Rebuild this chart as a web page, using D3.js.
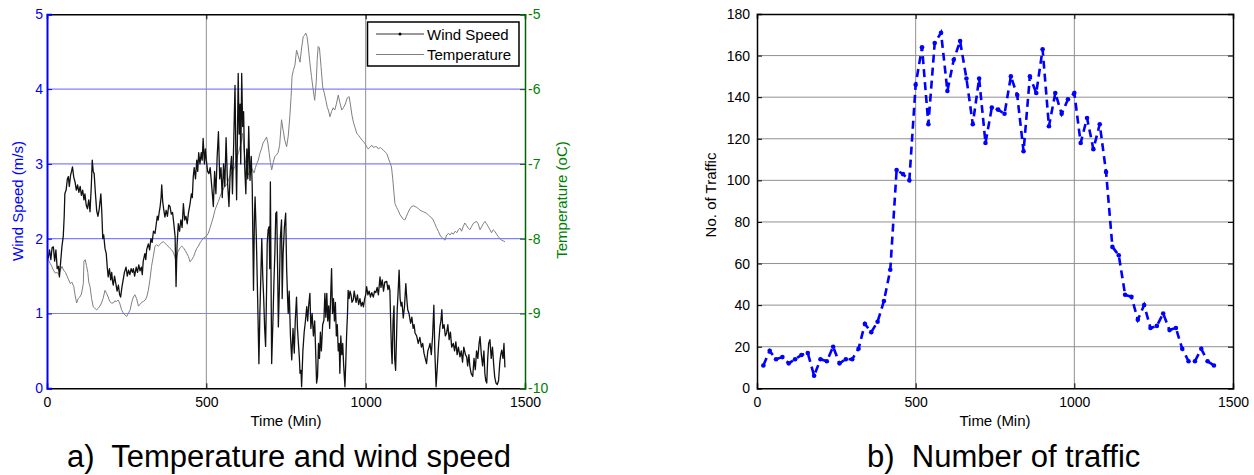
<!DOCTYPE html>
<html>
<head>
<meta charset="utf-8">
<script src="https://cdn.jsdelivr.net/npm/d3@7"></script>
<style>
  html, body { margin: 0; padding: 0; background: #fff; }
  svg { display: block; font-family: "Liberation Sans", Arial, sans-serif; }
</style>
</head>
<body>
<svg id="chart" width="1254" height="475"></svg>
<script>
// ---------------- DATA ----------------
const windTime = [0,4,8,12,16,20,24,28,32,36,39,43,47,51,54,56,60,64,67,70,74,77,80,84,88,92,96,100,104,108,112,116,119,123,127,131,135,139,142,145,148,152,156,160,164,169,172,175,178,182,186,189,192,196,200,203,206,208,212,216,220,224,228,231,235,239,243,248,252,256,260,264,268,271,275,280,284,288,292,296,299,302,307,310,313,318,322,326,330,334,339,343,346,349,352,355,358,360,363,366,370,374,378,382,386,390,394,398,402,405,408,412,416,420,424,428,432,436,440,444,449,453,456,459,462,466,470,473,476,480,484,487,490,494,497,500,504,508,512,515,518,522,526,530,534,538,542,546,550,554,558,562,566,571,575,579,582,586,590,593,595,598,600,603,606,608,611,614,617,620,624,627,630,633,637,641,644,648,651,653,657,661,665,668,671,674,677,680,683,686,689,691,694,697,699,701,703,705,709,712,715,718,721,724,726,729,732,736,738,741,745,749,752,755,757,760,764,768,772,776,779,783,786,789,792,794,797,799,803,807,811,815,818,821,825,828,832,836,840,843,846,849,852,855,858,861,865,869,872,875,878,881,884,887,890,893,896,899,902,905,908,911,914,917,919,922,925,928,931,935,938,940,943,945,948,951,954,957,961,964,967,970,974,978,982,986,990,993,997,1000,1003,1007,1011,1015,1019,1024,1028,1032,1036,1040,1045,1048,1052,1056,1060,1066,1070,1073,1076,1079,1081,1083,1086,1089,1091,1094,1097,1099,1102,1105,1108,1111,1114,1118,1122,1126,1129,1132,1136,1141,1145,1149,1152,1155,1160,1165,1170,1175,1179,1183,1187,1191,1195,1199,1202,1206,1210,1214,1217,1221,1225,1229,1233,1236,1239,1242,1246,1250,1254,1258,1262,1266,1270,1275,1279,1283,1287,1291,1296,1300,1304,1308,1313,1317,1320,1324,1327,1331,1336,1340,1344,1348,1352,1356,1359,1363,1367,1371,1374,1377,1380,1383,1386,1390,1394,1398,1402,1405,1409,1413,1417,1421,1424,1427,1431,1434,1437];
const windSpeed = [1.75,1.74,1.85,1.72,1.88,1.89,1.70,1.85,1.60,1.63,1.49,1.70,1.90,2.03,2.30,2.60,2.65,2.80,2.83,2.70,2.85,2.90,2.96,2.82,2.76,2.65,2.72,2.62,2.70,2.58,2.65,2.52,2.60,2.45,2.40,2.52,2.36,2.70,3.05,2.90,2.87,2.60,2.37,2.30,2.40,2.60,2.35,2.00,2.05,1.87,1.80,1.62,1.49,1.60,1.45,1.55,1.42,1.38,1.50,1.40,1.30,1.38,1.25,1.22,1.35,1.45,1.55,1.62,1.50,1.58,1.52,1.60,1.55,1.60,1.50,1.62,1.55,1.65,1.57,1.62,1.52,1.70,1.80,1.72,1.86,1.93,1.85,2.00,1.95,2.10,2.07,2.20,2.30,2.25,2.35,2.43,2.55,2.72,2.50,2.40,2.29,2.38,2.30,2.45,2.43,2.33,2.35,2.20,2.03,1.36,1.90,2.20,2.10,2.25,2.15,2.47,2.25,2.30,2.20,2.35,2.47,2.60,2.55,2.83,2.95,2.80,3.05,2.90,3.15,3.00,3.15,3.05,3.34,3.00,3.20,3.05,2.90,2.87,2.95,2.80,2.65,2.43,2.90,2.60,3.10,3.43,2.80,2.95,2.55,3.00,2.70,3.35,2.80,2.43,2.90,3.10,2.60,3.30,4.05,3.00,2.52,3.50,4.21,3.40,3.80,3.00,4.21,3.50,3.70,3.00,2.60,3.20,2.80,3.50,2.78,3.10,2.70,1.31,2.30,2.56,2.00,1.20,0.33,1.00,1.49,2.00,1.50,1.20,0.80,0.56,1.30,1.94,2.12,2.16,1.60,2.76,1.50,0.33,0.90,1.40,1.80,2.34,2.36,1.50,0.82,1.30,2.00,2.25,1.20,1.80,2.16,2.34,1.60,1.20,1.00,1.30,0.70,0.38,0.80,0.47,0.90,1.22,0.80,0.60,0.40,0.20,0.24,0.02,0.50,0.75,0.90,1.09,0.90,1.10,1.27,0.80,1.00,0.70,0.90,0.50,0.07,0.16,0.60,0.40,0.75,0.50,0.85,0.91,1.27,0.95,1.27,0.90,1.10,0.80,1.20,1.60,1.00,1.20,0.90,1.15,0.70,0.85,0.50,0.60,0.20,0.70,0.45,0.60,0.30,0.02,0.40,0.69,1.00,1.31,1.20,1.30,1.25,1.15,1.18,1.30,1.22,1.15,1.25,1.12,1.20,1.10,1.15,1.09,1.20,1.25,1.36,1.25,1.30,1.22,1.28,1.22,1.30,1.28,1.35,1.25,1.49,1.35,1.45,1.30,1.42,1.43,1.32,1.38,1.31,0.80,0.50,0.33,0.90,1.10,0.40,0.24,0.70,1.05,1.30,1.58,1.20,1.10,1.15,0.94,1.10,1.40,1.20,1.05,1.00,0.87,0.95,0.80,0.85,0.74,0.70,0.60,0.68,0.55,0.60,0.47,0.40,0.33,0.50,0.55,0.60,0.45,0.70,1.11,0.50,0.02,0.30,0.60,0.82,0.90,1.05,0.80,0.85,0.70,0.74,0.85,0.65,0.75,0.55,0.60,0.50,0.62,0.45,0.55,0.42,0.50,0.35,0.55,0.45,0.42,0.30,0.45,0.29,0.20,0.16,0.40,0.25,0.50,0.40,0.60,0.69,0.45,0.30,0.50,0.20,0.10,0.07,0.40,0.60,0.65,0.40,0.55,0.30,0.15,0.07,0.05,0.10,0.35,0.45,0.51,0.40,0.60,0.28];

const tempTime = [0,4,10,15,20,26,32,37,42,47,52,58,63,68,73,78,84,88,93,98,103,108,114,116,120,124,128,131,135,140,145,150,156,161,166,171,176,182,187,192,197,202,208,213,218,223,228,234,240,245,250,255,261,266,271,276,281,287,292,297,302,308,313,318,323,328,333,339,344,349,354,360,365,370,375,380,386,391,396,401,405,410,418,423,428,434,439,444,449,454,460,465,470,475,481,486,491,496,501,506,512,517,522,527,533,538,543,548,553,558,564,569,574,579,585,590,594,597,601,605,610,614,618,622,627,632,637,641,645,650,654,658,663,668,673,678,684,689,693,697,701,705,710,715,720,725,730,736,741,746,752,757,762,766,769,773,778,783,788,794,799,804,808,812,816,819,825,830,835,840,845,848,851,855,860,865,870,875,880,883,888,893,898,903,908,914,919,925,930,936,942,948,952,957,962,967,972,978,983,988,993,998,1003,1008,1013,1019,1024,1030,1035,1040,1046,1051,1056,1061,1066,1071,1076,1081,1085,1089,1092,1097,1102,1108,1113,1118,1123,1128,1133,1139,1144,1149,1155,1160,1166,1171,1176,1181,1186,1191,1196,1201,1207,1212,1217,1222,1228,1233,1238,1244,1249,1254,1260,1265,1270,1275,1281,1286,1291,1296,1301,1306,1311,1316,1322,1327,1332,1337,1343,1348,1353,1359,1364,1369,1374,1379,1385,1390,1395,1400,1405,1411,1416,1421,1427,1432,1437];
const temperature = [-8.25,-8.28,-8.33,-8.37,-8.42,-8.46,-8.45,-8.48,-8.42,-8.37,-8.42,-8.45,-8.50,-8.55,-8.60,-8.58,-8.64,-8.75,-8.86,-8.80,-8.78,-8.74,-8.60,-8.30,-8.28,-8.36,-8.45,-8.58,-8.64,-8.80,-8.91,-8.93,-8.95,-8.93,-8.90,-8.86,-8.80,-8.69,-8.73,-8.78,-8.84,-8.86,-8.86,-8.83,-8.84,-8.82,-8.86,-8.95,-9.00,-9.02,-9.04,-9.00,-8.95,-8.85,-8.78,-8.75,-8.80,-8.90,-8.88,-8.85,-8.84,-8.82,-8.78,-8.69,-8.55,-8.37,-8.25,-8.10,-8.08,-8.10,-8.08,-8.05,-8.04,-8.06,-8.08,-8.10,-8.13,-8.15,-8.18,-8.24,-8.30,-8.18,-8.12,-8.10,-8.12,-8.16,-8.20,-8.24,-8.31,-8.28,-8.24,-8.18,-8.13,-8.10,-8.05,-8.02,-7.99,-7.98,-7.96,-7.93,-7.85,-7.78,-7.71,-7.62,-7.55,-7.50,-7.44,-7.38,-7.34,-7.30,-7.28,-7.22,-7.16,-7.13,-7.08,-7.03,-6.95,-6.90,-6.85,-6.78,-6.70,-6.59,-6.80,-6.95,-7.05,-7.15,-7.10,-7.05,-7.08,-7.12,-7.05,-7.00,-6.95,-6.86,-6.80,-6.72,-6.68,-6.64,-6.72,-6.85,-6.98,-7.08,-6.98,-6.90,-6.88,-6.85,-6.75,-6.41,-6.55,-6.68,-6.77,-6.63,-6.37,-6.10,-5.83,-5.75,-5.68,-5.48,-5.55,-5.64,-5.45,-5.30,-5.28,-5.25,-5.30,-5.40,-5.65,-5.83,-6.00,-6.15,-5.90,-5.60,-5.43,-5.45,-5.70,-5.97,-6.05,-6.15,-6.25,-6.28,-6.37,-6.30,-6.25,-6.28,-6.20,-6.08,-6.18,-6.28,-6.25,-6.20,-6.12,-6.10,-6.20,-6.35,-6.45,-6.52,-6.59,-6.62,-6.65,-6.68,-6.70,-6.73,-6.77,-6.80,-6.78,-6.75,-6.78,-6.77,-6.77,-6.80,-6.78,-6.80,-6.82,-6.84,-6.86,-6.92,-6.98,-7.04,-7.20,-7.40,-7.53,-7.58,-7.62,-7.68,-7.71,-7.74,-7.75,-7.70,-7.65,-7.60,-7.57,-7.56,-7.57,-7.58,-7.60,-7.62,-7.63,-7.64,-7.65,-7.66,-7.68,-7.70,-7.72,-7.75,-7.80,-7.85,-7.90,-7.95,-7.98,-8.00,-8.02,-7.95,-7.93,-7.95,-7.92,-7.94,-7.90,-7.92,-7.88,-7.86,-7.90,-7.84,-7.79,-7.82,-7.86,-7.88,-7.84,-7.80,-7.78,-7.77,-7.80,-7.88,-7.84,-7.80,-7.77,-7.80,-7.84,-7.88,-7.92,-7.88,-7.90,-7.94,-7.97,-8.00,-8.02,-8.03,-8.04];

const trafficTime = [20,40,60,80,100,120,140,160,180,200,220,240,260,280,300,320,340,360,380,400,420,440,460,480,500,520,540,560,580,600,620,640,660,680,700,720,740,760,780,800,820,840,860,880,900,920,940,960,980,1000,1020,1040,1060,1080,1100,1120,1140,1160,1180,1200,1220,1240,1260,1280,1300,1320,1340,1360,1380,1400,1420,1440];
const trafficCount = [11,18,14,15,12,14,16,17,6,14,13,20,12,14,14,19,31,27,32,42,57,105,103,100,146,164,127,166,171,143,158,167,149,127,149,118,135,134,132,150,141,114,150,142,163,126,142,132,139,142,118,130,115,127,104,68,64,45,44,33,40,29,30,36,28,29,19,13,13,19,13,11];

const timeTicks = [0, 500, 1000, 1500];
const windTicks = [0, 1, 2, 3, 4, 5];
const tempTicks = [-10, -9, -8, -7, -6, -5];
const trafficTicks = [0, 20, 40, 60, 80, 100, 120, 140, 160, 180];
const seriesNames = ["Wind Speed", "Temperature"];

// ---------------- DRAW ----------------
const svg = d3.select("#chart");
const FONT_TICK = 14, FONT_LABEL = 15;

// ===== Chart a =====
const A = { left: 47, right: 525, top: 14.3, bottom: 388.3 };
const xA = d3.scaleLinear().domain([0, 1500]).range([A.left, A.right]);
const yW = d3.scaleLinear().domain([0, 5]).range([A.bottom, A.top]);
const yT = d3.scaleLinear().domain([-10, -5]).range([A.bottom, A.top]);
const gA = svg.append("g");

// grid
gA.append("g").selectAll("line").data(windTicks.slice(1, -1)).join("line")
  .attr("x1", A.left).attr("x2", A.right)
  .attr("y1", d => yW(d)).attr("y2", d => yW(d))
  .attr("stroke", "#8080ff").attr("stroke-width", 1.2);
gA.append("g").selectAll("line").data(timeTicks.slice(1, -1)).join("line")
  .attr("x1", d => xA(d)).attr("x2", d => xA(d))
  .attr("y1", A.top).attr("y2", A.bottom)
  .attr("stroke", "#909090").attr("stroke-width", 1);

svg.append("defs").append("clipPath").attr("id", "clipA")
  .append("rect").attr("x", A.left).attr("y", A.top).attr("width", A.right - A.left).attr("height", A.bottom - A.top);

// temperature line
const tempData = tempTime.map((t, i) => [t, temperature[i]]);
gA.append("path").datum(tempData)
  .attr("fill", "none").attr("stroke", "#808080").attr("stroke-width", 1)
  .attr("d", d3.line().x(d => xA(d[0])).y(d => yT(d[1])));
// wind line
const windData = windTime.map((t, i) => [t, windSpeed[i]]);
gA.append("path").datum(windData)
  .attr("clip-path", "url(#clipA)")
  .attr("fill", "none").attr("stroke", "#111").attr("stroke-width", 1.3)
  .attr("stroke-linejoin", "round")
  .attr("d", d3.line().x(d => xA(d[0])).y(d => yW(d[1])));

// axes
const axBotA = gA.append("g").attr("transform", `translate(0,${A.bottom})`)
  .call(d3.axisBottom(xA).tickValues(timeTicks).tickSize(-5).tickPadding(9).tickFormat(d3.format("d")));
const axTopA = gA.append("g").attr("transform", `translate(0,${A.top})`)
  .call(d3.axisTop(xA).tickValues(timeTicks).tickSize(-5).tickFormat(""));
const axLeftA = gA.append("g").attr("transform", `translate(${A.left},0)`)
  .call(d3.axisLeft(yW).tickValues(windTicks).tickSize(-5).tickPadding(8).tickFormat(d3.format("d")));
const axRightA = gA.append("g").attr("transform", `translate(${A.right},0)`)
  .call(d3.axisRight(yT).tickValues(tempTicks).tickSize(-5).tickPadding(8).tickFormat(d => String(d).replace("\u2212", "-")));

[axBotA, axTopA].forEach(g => {
  g.select(".domain").attr("stroke", "#000").attr("stroke-width", 1.5);
  g.selectAll(".tick line").attr("stroke", "#000");
  g.selectAll("text").attr("fill", "#000").attr("font-size", FONT_TICK).attr("font-family", "Liberation Sans, Arial");
});
axLeftA.select(".domain").attr("stroke", "#0000ff").attr("stroke-width", 2);
axLeftA.selectAll(".tick line").attr("stroke", "#0000ff");
axLeftA.selectAll("text").attr("fill", "#0000ff").attr("font-size", FONT_TICK).attr("font-family", "Liberation Sans, Arial").attr("x", -4);
axRightA.select(".domain").attr("stroke", "#006400").attr("stroke-width", 1.5);
axRightA.selectAll(".tick line").attr("stroke", "#006400");
axRightA.selectAll("text").attr("fill", "#008000").attr("font-size", FONT_TICK).attr("font-family", "Liberation Sans, Arial").attr("x", 3);

// axis labels
gA.append("text").attr("transform", `translate(23,201) rotate(-90)`)
  .attr("text-anchor", "middle").attr("fill", "#0000ff").attr("font-size", FONT_LABEL).text("Wind Speed (m/s)");
gA.append("text").attr("transform", `translate(567,200) rotate(-90)`)
  .attr("text-anchor", "middle").attr("fill", "#008000").attr("font-size", FONT_LABEL).text("Temperature (oC)");
gA.append("text").attr("x", (A.left + A.right) / 2).attr("y", 426)
  .attr("text-anchor", "middle").attr("fill", "#000").attr("font-size", FONT_LABEL).text("Time (Min)");

// legend
const leg = gA.append("g");
leg.append("rect").attr("x", 367.5).attr("y", 22).attr("width", 151.5).attr("height", 44)
  .attr("fill", "#fff").attr("stroke", "#000").attr("stroke-width", 1.5);
const legY = [34, 54.5];
leg.append("line").attr("x1", 376).attr("x2", 424).attr("y1", legY[0]).attr("y2", legY[0]).attr("stroke", "#333").attr("stroke-width", 1);
leg.append("circle").attr("cx", 400).attr("cy", legY[0]).attr("r", 1.5).attr("fill", "#000");
leg.append("line").attr("x1", 376).attr("x2", 424).attr("y1", legY[1]).attr("y2", legY[1]).attr("stroke", "#808080").attr("stroke-width", 1);
leg.selectAll("text.lg").data(seriesNames).join("text").attr("class", "lg")
  .attr("x", 427).attr("y", (d, i) => legY[i] + 5.5)
  .attr("font-size", FONT_LABEL).attr("fill", "#000").text(d => d);

// ===== Chart b =====
const B = { left: 757, right: 1233, top: 14, bottom: 388.3 };
const xB = d3.scaleLinear().domain([0, 1500]).range([B.left, B.right]);
const yB = d3.scaleLinear().domain([0, 180]).range([B.bottom, B.top]);
const gB = svg.append("g");

gB.append("g").selectAll("line").data(trafficTicks.slice(1, -1)).join("line")
  .attr("x1", B.left).attr("x2", B.right)
  .attr("y1", d => yB(d)).attr("y2", d => yB(d))
  .attr("stroke", "#909090").attr("stroke-width", 1);
gB.append("g").selectAll("line").data(timeTicks.slice(1, -1)).join("line")
  .attr("x1", d => xB(d)).attr("x2", d => xB(d))
  .attr("y1", B.top).attr("y2", B.bottom)
  .attr("stroke", "#909090").attr("stroke-width", 1);

const axBotB = gB.append("g").attr("transform", `translate(0,${B.bottom})`)
  .call(d3.axisBottom(xB).tickValues(timeTicks).tickSize(-5).tickPadding(9).tickFormat(d3.format("d")));
const axTopB = gB.append("g").attr("transform", `translate(0,${B.top})`)
  .call(d3.axisTop(xB).tickValues(timeTicks).tickSize(-5).tickFormat(""));
const axLeftB = gB.append("g").attr("transform", `translate(${B.left},0)`)
  .call(d3.axisLeft(yB).tickValues(trafficTicks).tickSize(-5).tickPadding(8).tickFormat(d3.format("d")));
const axRightB = gB.append("g").attr("transform", `translate(${B.right},0)`)
  .call(d3.axisRight(yB).tickValues(trafficTicks).tickSize(-5).tickFormat(""));
[axBotB, axTopB, axLeftB, axRightB].forEach(g => {
  g.select(".domain").attr("stroke", "#000").attr("stroke-width", 1.5);
  g.selectAll(".tick line").attr("stroke", "#000");
  g.selectAll("text").attr("fill", "#000").attr("font-size", FONT_TICK).attr("font-family", "Liberation Sans, Arial");
});
axLeftB.selectAll("text").attr("x", -7);

const trafficData = trafficTime.map((t, i) => [t, trafficCount[i]]);
gB.append("path").datum(trafficData)
  .attr("fill", "none").attr("stroke", "#0000ff").attr("stroke-width", 2.6)
  .attr("stroke-dasharray", "8,5")
  .attr("d", d3.line().x(d => xB(d[0])).y(d => yB(d[1])));
gB.append("g").selectAll("circle").data(trafficData).join("circle")
  .attr("cx", d => xB(d[0])).attr("cy", d => yB(d[1])).attr("r", 2.3).attr("fill", "#0000ff");

gB.append("text").attr("transform", `translate(716,195) rotate(-90)`)
  .attr("text-anchor", "middle").attr("fill", "#000").attr("font-size", FONT_LABEL).text("No. of Traffic");
gB.append("text").attr("x", (B.left + B.right) / 2).attr("y", 426)
  .attr("text-anchor", "middle").attr("fill", "#000").attr("font-size", FONT_LABEL).text("Time (Min)");

// captions
svg.append("text").attr("x", 67).attr("y", 467).attr("font-size", 31).attr("fill", "#000")
  .style("white-space", "pre").text("a)  Temperature and wind speed");
svg.append("text").attr("x", 867).attr("y", 467).attr("font-size", 31).attr("fill", "#000")
  .style("white-space", "pre").text("b)  Number of traffic");
</script>
</body>
</html>
